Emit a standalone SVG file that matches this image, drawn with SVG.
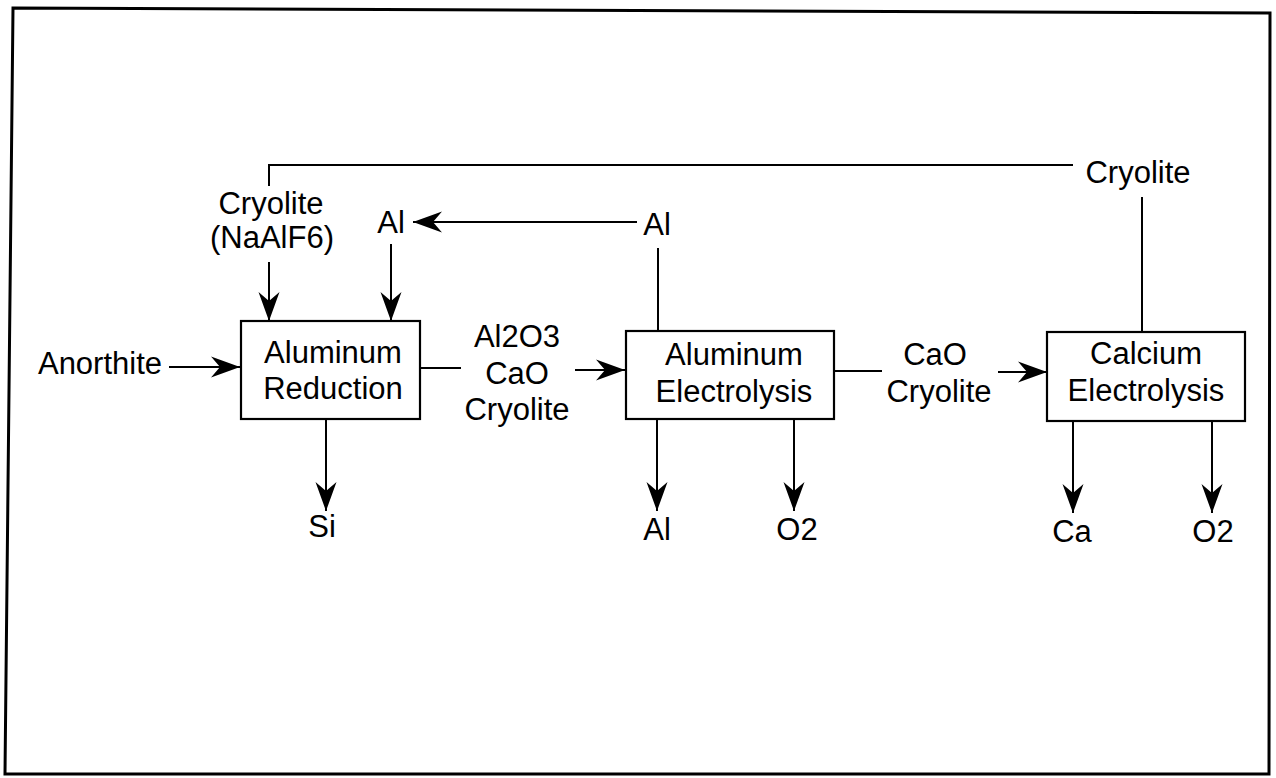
<svg xmlns="http://www.w3.org/2000/svg" width="1276" height="778" viewBox="0 0 1276 778">
<style>
text{font-family:"Liberation Sans",Arial,sans-serif;font-size:31px;fill:#000;text-anchor:middle}
.box{fill:#fff;stroke:#000;stroke-width:2.2}
.ln{fill:none;stroke:#000;stroke-width:2}
.ar{fill:none;stroke:#000;stroke-width:2;marker-end:url(#ah)}
</style>
<defs>
<marker id="ah" viewBox="-32 -12 34 24" refX="0" refY="0" markerWidth="34" markerHeight="24" markerUnits="userSpaceOnUse" orient="auto">
<path d="M0,0 L-29,-10.5 L-20,0 L-29,10.5 Z" fill="#000"/>
</marker>
</defs>
<rect width="1276" height="778" fill="#fff"/>
<polygon points="13,8 1270,13 1269,774 5,774" fill="none" stroke="#000" stroke-width="3"/>
<g id="connectors">
<polyline class="ln" points="269,186 269,165 1073,165"/>
<line class="ln" x1="1142" y1="197" x2="1142" y2="332"/>
<line class="ar" x1="269" y1="262" x2="269" y2="321"/>
<line class="ar" x1="637" y1="222" x2="413" y2="222"/>
<line class="ar" x1="391" y1="244" x2="391" y2="321"/>
<line class="ln" x1="658" y1="248" x2="658" y2="331"/>
<line class="ar" x1="169" y1="367" x2="240" y2="367"/>
<line class="ln" x1="420" y1="368" x2="461" y2="368"/>
<line class="ar" x1="575" y1="370" x2="625" y2="370"/>
<line class="ln" x1="834" y1="371" x2="882" y2="371"/>
<line class="ar" x1="998" y1="372" x2="1047" y2="372"/>
<line class="ar" x1="326" y1="420" x2="326" y2="511"/>
<line class="ar" x1="657" y1="420" x2="657" y2="511"/>
<line class="ar" x1="794" y1="420" x2="794" y2="511"/>
<line class="ar" x1="1073" y1="422" x2="1073" y2="513"/>
<line class="ar" x1="1212" y1="422" x2="1212" y2="513"/>
</g>
<g id="n-reduction">
<rect class="box" x="241" y="321" width="179" height="98"/>
<text x="333" y="363">Aluminum</text>
<text x="333" y="399">Reduction</text>
</g>
<g id="n-al-electrolysis">
<rect class="box" x="626" y="331" width="208" height="88"/>
<text x="734" y="365">Aluminum</text>
<text x="734" y="402">Electrolysis</text>
</g>
<g id="n-ca-electrolysis">
<rect class="box" x="1047" y="332" width="198" height="89"/>
<text x="1146" y="364">Calcium</text>
<text x="1146" y="401">Electrolysis</text>
</g>
<g id="labels">
<text x="100" y="374">Anorthite</text>
<text x="271" y="214">Cryolite</text>
<text x="272" y="248">(NaAlF6)</text>
<text x="391" y="233">Al</text>
<text x="657" y="235">Al</text>
<text x="1138" y="183">Cryolite</text>
<text x="517" y="347">Al2O3</text>
<text x="517" y="384">CaO</text>
<text x="517" y="420">Cryolite</text>
<text x="935" y="365">CaO</text>
<text x="939" y="402">Cryolite</text>
<text x="322" y="537">Si</text>
<text x="657" y="540">Al</text>
<text x="797" y="540">O2</text>
<text x="1072" y="542">Ca</text>
<text x="1213" y="542">O2</text>
</g>
</svg>
